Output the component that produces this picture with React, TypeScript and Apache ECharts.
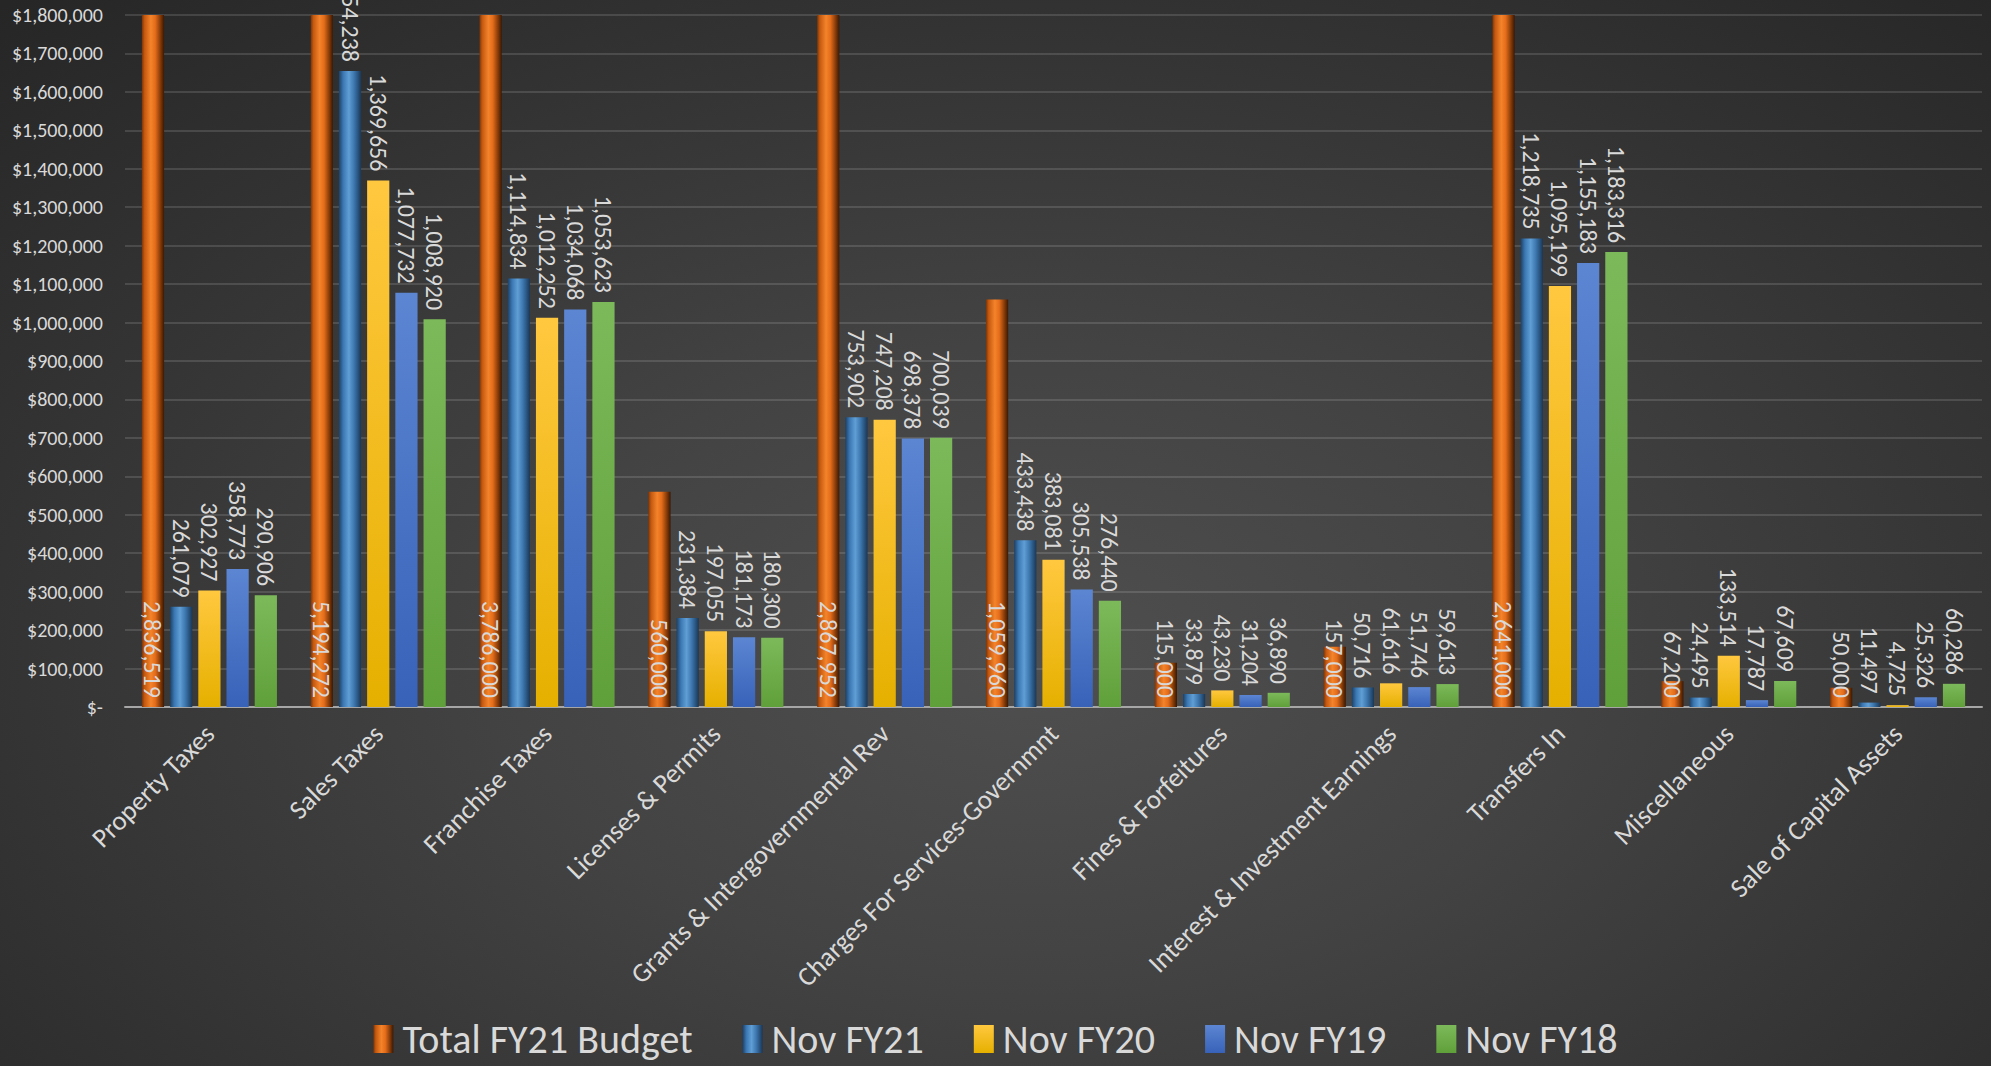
import React, { useEffect, useRef } from "react";
import * as echarts from "echarts";

const categories = [
  "Property Taxes",
  "Sales Taxes",
  "Franchise Taxes",
  "Licenses & Permits",
  "Grants & Intergovernmental Rev",
  "Charges For Services-Governmnt",
  "Fines & Forfeitures",
  "Interest & Investment Earnings",
  "Transfers In",
  "Miscellaneous",
  "Sale of Capital Assets",
];

const seriesNames = ["Total FY21 Budget", "Nov FY21", "Nov FY20", "Nov FY19", "Nov FY18"];

const budgetFY21 = [2836519, 5194272, 3786000, 560000, 2867952, 1059960, 115000, 157000, 2641000, 67200, 50000];
const novFY21 = [261079, 1654238, 1114834, 231384, 753902, 433438, 33879, 50716, 1218735, 24495, 11497];
const novFY20 = [302927, 1369656, 1012252, 197055, 747208, 383081, 43230, 61616, 1095199, 133514, 4725];
const novFY19 = [358773, 1077732, 1034068, 181173, 698378, 305538, 31204, 51746, 1155183, 17787, 25326];
const novFY18 = [290906, 1008920, 1053623, 180300, 700039, 276440, 36890, 59613, 1183316, 67609, 60286];

const yMax = 1800000;
const yInterval = 100000;

const FONT = "Carlito, Calibri, 'Open Sans', sans-serif";
const LABEL_COLOR = "#d9d9d9";

function grad(stops: [number, string][], vertical = false) {
  return new echarts.graphic.LinearGradient(
    0,
    0,
    vertical ? 0 : 1,
    vertical ? 1 : 0,
    stops.map(([offset, color]) => ({ offset, color }))
  );
}

const fmt = (v: number) => v.toLocaleString("en-US");

export default function App() {
  const ref = useRef<HTMLDivElement>(null);

  useEffect(() => {
    if (!ref.current) return;
    const chart = echarts.init(ref.current, undefined, { renderer: "svg" });

    const colors = [
      grad([
        [0, "#7a3508"],
        [0.12, "#c4580f"],
        [0.4, "#f4842b"],
        [0.6, "#e46c1a"],
        [0.85, "#7e3707"],
        [1, "#3a1803"],
      ]),
      grad([
        [0, "#1d4166"],
        [0.2, "#3c79b4"],
        [0.45, "#609ed6"],
        [0.7, "#3a74ab"],
        [1, "#1a3756"],
      ]),
      grad(
        [
          [0, "#ffc83f"],
          [1, "#e6b000"],
        ],
        true
      ),
      grad(
        [
          [0, "#5c86d2"],
          [1, "#3762b8"],
        ],
        true
      ),
      grad(
        [
          [0, "#7cb95a"],
          [1, "#60a03a"],
        ],
        true
      ),
    ];

    const dataSets = [budgetFY21, novFY21, novFY20, novFY19, novFY18];

    const series = dataSets.map((data, i) => ({
      name: seriesNames[i],
      type: "bar",
      data,
      barCategoryGap: "20%",
      barGap: "27%",
      itemStyle: { color: colors[i] },
      label: {
        show: true,
        position: i === 0 ? "insideBottom" : "top",
        rotate: -90,
        align: "right",
        verticalAlign: "middle",
        distance: 9,
        color: LABEL_COLOR,
        fontSize: 24,
        fontFamily: FONT,
        formatter: (p: any) => fmt(p.value),
      },
    }));

    chart.setOption({
      animation: false,
      backgroundColor: "transparent",
      textStyle: { fontFamily: FONT },
      grid: { left: 125, right: 9, top: 15, bottom: 359, containLabel: false },
      legend: {
        bottom: 2,
        left: "center",
        itemWidth: 20,
        itemHeight: 28,
        itemGap: 50,
        icon: "rect",
        textStyle: { color: LABEL_COLOR, fontSize: 40, fontFamily: FONT, padding: [0, 0, 0, 4] },
        data: seriesNames,
      },
      xAxis: {
        type: "category",
        data: categories,
        axisLine: { show: true, lineStyle: { color: "#a6a6a6", width: 2 } },
        axisTick: { show: false },
        axisLabel: {
          interval: 0,
          rotate: 45,
          margin: 22,
          color: LABEL_COLOR,
          fontSize: 27,
          fontFamily: FONT,
        },
      },
      yAxis: {
        type: "value",
        min: 0,
        max: yMax,
        interval: yInterval,
        axisLine: { show: false },
        axisTick: { show: false },
        splitLine: { lineStyle: { color: "rgba(255,255,255,0.13)", width: 2 } },
        axisLabel: {
          margin: 22,
          color: LABEL_COLOR,
          fontSize: 20,
          fontFamily: FONT,
          formatter: (v: number) => (v === 0 ? "$-" : "$" + fmt(v)),
        },
      },
      series,
    });

    return () => chart.dispose();
  }, []);

  return (
    <div
      style={{
        position: "absolute",
        left: 0,
        top: 0,
        width: 1991,
        height: 1066,
        background:
          "radial-gradient(ellipse 75% 85% at 52% 62%, #4f4f4f 0%, #434343 35%, #333333 70%, #262626 100%)",
      }}
    >
      <div ref={ref} style={{ width: 1991, height: 1066 }} />
    </div>
  );
}
